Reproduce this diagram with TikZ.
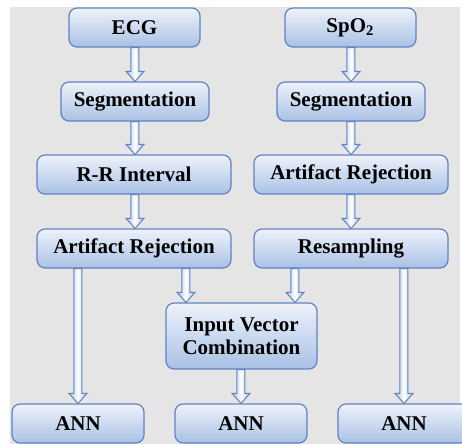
\documentclass[tikz,border=0pt]{standalone}
\usepackage{fontspec}
\setmainfont{Liberation Serif}
\usepackage{tikz}
\usetikzlibrary{calc}

\definecolor{bggray}{HTML}{E5E5E5}
\definecolor{boxtop}{HTML}{EEF2FA}
\definecolor{boxbot}{HTML}{A9C1E5}
\definecolor{boxline}{HTML}{5F83C2}
\definecolor{arrowside}{HTML}{A9C1E5}

\tikzset{
	box/.style={draw=boxline, line width=0.6pt, rounded corners=4pt, top color=boxtop, bottom color=boxbot, inner sep=0pt, align=center, font=\fontsize{10.5}{11.5}\selectfont\bfseries},
	fatarrow/.style={draw=boxline, line width=0.5pt, left color=arrowside, right color=arrowside, middle color=white,
		to path={let \p1=(\tikztostart), \p2=(\tikztotarget) in
			(\x1-2pt,\y1) -- (\x1-2pt,\y2+5pt) -- (\x1-4.5pt,\y2+5pt) -- (\x1,\y2) -- (\x1+4.5pt,\y2+5pt) -- (\x1+2pt,\y2+5pt) -- (\x1+2pt,\y1) -- cycle}}
}

\begin{document}
\begin{tikzpicture}[x=0.5pt, y=-0.5pt]

	\useasboundingbox (0,0) rectangle (462,444);
	\clip (0,0) rectangle (462,444);
	\fill[bggray] (10,7) rectangle (460,444);

	\node[box, minimum width=65.5pt, minimum height=19.5pt] (ecg) at (134.5,27.5) {ECG};
	\node[box, minimum width=65.5pt, minimum height=19.5pt] (spo) at (350.5,27.5) {SpO\textsubscript{2}};
	\node[box, minimum width=74pt, minimum height=19.5pt] (segA) at (135,101.5) {Segmentation};
	\node[box, minimum width=74pt, minimum height=19.5pt] (segB) at (351,101.5) {Segmentation};
	\node[box, minimum width=97pt, minimum height=19.5pt] (rr) at (134,174.5) {R-R Interval};
	\node[box, minimum width=97pt, minimum height=19.5pt] (arB) at (351,174.5) {Artifact Rejection};
	\node[box, minimum width=97pt, minimum height=19.5pt] (arA) at (134,248.5) {Artifact Rejection};
	\node[box, minimum width=97pt, minimum height=19.5pt] (res) at (351,248.5) {Resampling};
	\node[box, minimum width=75.5pt, minimum height=33pt] (ivc) at (241.5,336) {Input Vector\\Combination};
	\node[box, minimum width=66pt, minimum height=19.5pt] (annA) at (78,423.5) {ANN};
	\node[box, minimum width=66pt, minimum height=19.5pt] (annB) at (241,423.5) {ANN};
	\node[box, minimum width=66pt, minimum height=19.5pt] (annC) at (404,423.5) {ANN};

	\draw[fatarrow] (ecg.south -| segA.north) to (segA.north);
	\draw[fatarrow] (spo.south -| segB.north) to (segB.north);
	\draw[fatarrow] (segA.south) to (rr.north);
	\draw[fatarrow] (segB.south) to (arB.north);
	\draw[fatarrow] (rr.south -| segA.south) to (arA.north);
	\draw[fatarrow] (arB.south) to (res.north);
	\draw[fatarrow] (arA.south -| annA.north) to (annA.north);
	\draw[fatarrow] ([xshift=-27.75pt]ivc.north |- arA.south) to ([xshift=-27.75pt]ivc.north);
	\draw[fatarrow] ([xshift=26.75pt]ivc.north |- res.south) to ([xshift=26.75pt]ivc.north);
	\draw[fatarrow] (res.south -| annC.north) to (annC.north);
	\draw[fatarrow] (ivc.south -| annB.north) to (annB.north);

\end{tikzpicture}
\end{document}
